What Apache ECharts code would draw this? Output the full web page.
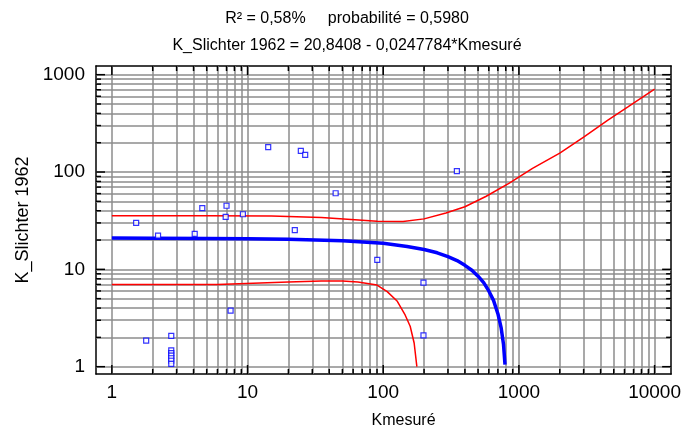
<!DOCTYPE html>
<html>
<head>
<meta charset="utf-8">
<script src="https://cdn.jsdelivr.net/npm/echarts@6/dist/echarts.min.js"></script>
<style>html,body{margin:0;padding:0;background:#fff}#c{width:684px;height:434px}</style>
</head>
<body>
<div id="c"></div>
<script>
// ---- data ----
const titleLine1 = 'R² = 0,58%     probabilité = 0,5980';
const titleLine2 = 'K_Slichter 1962 = 20,8408 - 0,0247784*Kmesuré';
const xName = 'Kmesuré';
const yName = 'K_Slichter 1962';

const xTickLabels = [1, 10, 100, 1000, 10000];
const yTickLabels = [1, 10, 100, 1000];
const xMinorGrid = [2,3,4,5,6,7,8,9,20,30,40,50,60,70,80,90,200,300,400,500,600,700,800,900,2000,3000,4000,5000,6000,7000,8000,9000];
const yMinorGrid = [2,3,4,5,6,7,8,9,20,30,40,50,60,70,80,90,200,300,400,500,600,700,800,900];

const obsX = [1.51, 2.19, 4.08, 4.64, 7.0, 6.9, 9.24, 14.2, 24.7, 26.6, 22.3, 44.6, 90.4, 7.5, 1.79, 2.74, 2.74, 2.74, 2.74, 2.74, 2.74, 2.74, 198, 198, 349];
const obsY = [30, 22.2, 23.1, 42.5, 45, 34.6, 36.8, 180, 165, 150, 25.3, 60.5, 12.5, 3.76, 1.85, 2.07, 1.47, 1.38, 1.30, 1.22, 1.15, 1.07, 7.3, 2.1, 102];

const fitX = [1, 2, 5, 10, 20, 50, 100, 150, 200, 250, 300, 350, 400, 450, 500, 550, 600, 650, 700, 740, 770, 790];
const fitY = [21.0, 20.9, 20.8, 20.6, 20.4, 19.7, 18.5, 17.2, 16.0, 14.8, 13.5, 12.3, 11.0, 9.8, 8.5, 7.3, 6.0, 4.8, 3.5, 2.5, 1.7, 1.05];

const upX = [1, 5, 15, 35, 58, 90, 140, 200, 290, 400, 570, 850, 1260, 2000, 3000, 4500, 6400, 10000];
const upY = [35.5, 35.5, 35.3, 34, 32.5, 31.2, 31, 33, 38, 44, 56, 77, 109, 156, 228, 340, 470, 710];

const loX = [1, 6, 11, 20, 35, 50, 65, 90, 107, 127, 145, 158, 169, 177];
const loY = [7.0, 7.0, 7.2, 7.4, 7.6, 7.6, 7.4, 6.9, 5.9, 4.7, 3.4, 2.6, 1.75, 1.0];

const zip = (a, b) => a.map((v, i) => [v, b[i]]);
const FONT = 'Liberation Sans, Arial, sans-serif';
const GRID = '#8c8c8c';

const isLabel = (list, v) => { const r = Math.round(v); return list.includes(r) && Math.abs(v - r) < 1e-6 * r + 1e-9; };
const xLabelFmt = v => isLabel(xTickLabels, v) ? String(Math.round(v)) : '';
const yLabelFmt = v => isLabel(yTickLabels, v) ? String(Math.round(v)) : '';

const xMin = 0.764, xMax = 13240, yMin = 0.841, yMax = 1228;

function xAxisDef(pos, labels) {
  return {
    type: 'log', logBase: 10, min: xMin, max: xMax, position: pos,
    name: labels ? xName : '', nameLocation: 'middle', nameGap: 39,
    nameTextStyle: { fontFamily: FONT, fontSize: 16, color: '#000', padding: [0, 0, 0, 40] },
    axisLine: { show: true, onZero: false, lineStyle: { color: '#000', width: 1.5 } },
    axisTick: { show: false },
    axisLabel: { show: labels, fontFamily: FONT, fontSize: 19, color: '#000', margin: 9, formatter: xLabelFmt, showMinLabel: false, showMaxLabel: false },
    splitLine: { show: false },
    minorTick: { show: false }, minorSplitLine: { show: false }
  };
}
function yAxisDef(pos, labels) {
  return {
    type: 'log', logBase: 10, min: yMin, max: yMax, position: pos,
    name: labels ? yName : '', nameLocation: 'middle', nameGap: 59,
    nameTextStyle: { fontFamily: FONT, fontSize: 18, color: '#000' },
    axisLine: { show: true, onZero: false, lineStyle: { color: '#000', width: 1.5 } },
    axisTick: { show: false },
    axisLabel: { show: labels, fontFamily: FONT, fontSize: 19, color: '#000', margin: 11, formatter: yLabelFmt, showMinLabel: false, showMaxLabel: false },
    splitLine: { show: false },
    minorTick: { show: false }, minorSplitLine: { show: false }
  };
}

const xGridAll = xTickLabels.concat(xMinorGrid);
const yGridAll = yTickLabels.concat(yMinorGrid);

// short inside ticks on the frame, placed through the axis scales
function tickRender(params, api) {
  const kind = api.value(0); // 0 = x tick, 1 = y tick
  const v = api.value(1);
  const major = api.value(2);
  const len = major ? 9 : 5;
  const style = { stroke: '#000', lineWidth: 1.5 };
  if (kind === 0) {
    const pb = api.coord([v, yMin]);
    const pt = api.coord([v, yMax]);
    return { type: 'group', children: [
      { type: 'line', shape: { x1: pb[0], y1: pb[1], x2: pb[0], y2: pb[1] - len }, style },
      { type: 'line', shape: { x1: pt[0], y1: pt[1], x2: pt[0], y2: pt[1] + len }, style }
    ] };
  } else {
    const pl = api.coord([xMin, v]);
    const pr = api.coord([xMax, v]);
    return { type: 'group', children: [
      { type: 'line', shape: { x1: pl[0], y1: pl[1], x2: pl[0] + len, y2: pl[1] }, style },
      { type: 'line', shape: { x1: pr[0], y1: pr[1], x2: pr[0] - len, y2: pr[1] }, style }
    ] };
  }
}
const tickData = xTickLabels.map(v => [0, v, 1])
  .concat(xMinorGrid.map(v => [0, v, 0]))
  .concat(yTickLabels.map(v => [1, v, 1]))
  .concat(yMinorGrid.map(v => [1, v, 0]));

const chart = echarts.init(document.getElementById('c'), null, { renderer: 'canvas' });
chart.setOption({
  animation: false,
  backgroundColor: '#fff',
  title: [
    { text: titleLine1, left: 342, top: 6, textAlign: 'center', textStyle: { fontFamily: FONT, fontSize: 16, fontWeight: 'normal', color: '#000' } },
    { text: titleLine2, left: 342, top: 33, textAlign: 'center', textStyle: { fontFamily: FONT, fontSize: 16, fontWeight: 'normal', color: '#000' } }
  ],
  grid: { left: 96, top: 66, right: 8, bottom: 60, containLabel: false },
  xAxis: [xAxisDef('bottom', true), xAxisDef('top', false)],
  yAxis: [yAxisDef('left', true), yAxisDef('right', false)],
  series: [
    {
      type: 'line', data: [], z: 1, silent: true,
      markLine: {
        z: 1, silent: true, symbol: ['none', 'none'], label: { show: false },
        lineStyle: { color: GRID, width: 1.5, type: 'solid' },
        emphasis: { disabled: true },
        data: xGridAll.map(v => ({ xAxis: v })).concat(yGridAll.map(v => ({ yAxis: v })))
      }
    },
    {
      type: 'custom', data: tickData, renderItem: tickRender, z: 2, silent: true, clip: false,
      encode: { x: 1, y: 1 }
    },
    {
      type: 'line', data: zip(upX, upY), showSymbol: false, symbol: 'none', z: 3,
      lineStyle: { color: '#ff0000', width: 1.5 }, clip: true
    },
    {
      type: 'line', data: zip(loX, loY), showSymbol: false, symbol: 'none', z: 3,
      lineStyle: { color: '#ff0000', width: 1.5 }, clip: true
    },
    {
      type: 'line', data: zip(fitX, fitY), showSymbol: false, symbol: 'none', z: 4,
      lineStyle: { color: '#0000ff', width: 3.5 }, clip: true
    },
    {
      type: 'scatter', data: zip(obsX, obsY), symbol: 'rect', symbolSize: 5, z: 5,
      itemStyle: { color: '#ffffff', borderColor: '#0000ff', borderWidth: 1.2 }
    }
  ]
});
</script>
</body>
</html>
